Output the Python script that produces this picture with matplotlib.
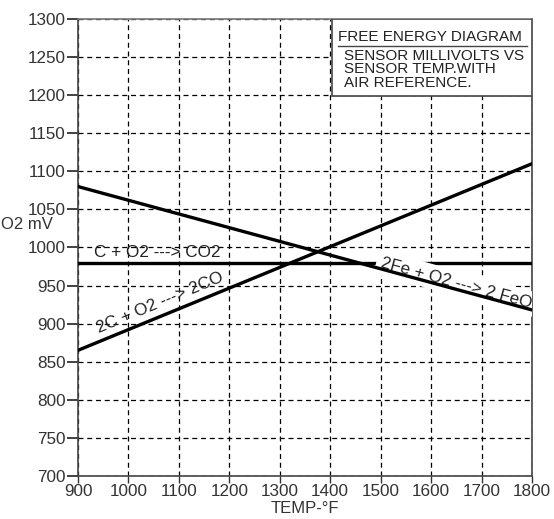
import numpy as np
import matplotlib.pyplot as plt
from matplotlib.patches import Rectangle

plt.rcParams['font.family'] = ['Liberation Sans', 'DejaVu Sans']

# temperature range (deg F) and the three reaction lines (mV)
temp = [900, 1800]
co2_mv = [980, 980]          # C + O2 ---> CO2
co_mv = [865, 1110]          # 2C + O2 ---> 2CO
feo_mv = [1080, 918]         # 2Fe + O2 ---> 2 FeO

xticks = list(range(900, 1801, 100))
yticks = list(range(700, 1301, 50))

fig = plt.figure(figsize=(5.54, 5.19), dpi=100)
ax = fig.add_axes([0.1408, 0.0829, 0.8195, 0.8805])

ax.set_xlim(900, 1800)
ax.set_ylim(700, 1300)
ax.set_xticks(xticks)
ax.set_yticks(yticks)
ax.tick_params(axis='both', labelsize=12.3, colors='#333333', labelcolor='#333333')
ax.tick_params(axis='y', length=8, width=1.3, pad=1)
ax.tick_params(axis='x', length=5, width=1, pad=1)
for s in ax.spines.values():
    s.set_color('#444444')
    s.set_linewidth(1.2)
ax.spines['top'].set_color('#777777')

ax.grid(True, color='black', linestyle=(0, (4, 3)), linewidth=0.9)
ax.set_axisbelow(True)

ax.plot(temp, co2_mv, color='black', lw=2.4, zorder=3)
ax.plot(temp, co_mv, color='black', lw=2.4, zorder=5)
ax.plot(temp, feo_mv, color='black', lw=2.4, zorder=5)

ax.text(1057, 993, 'C + O2 ---> CO2', fontsize=12.3, color='#222222',
        ha='center', va='center', zorder=4)
ax.text(1062, 927, '2C + O2 ---> 2CO', fontsize=12.3, color='#222222',
        ha='center', va='center', rotation=22.6, rotation_mode='anchor', zorder=4)
ax.text(1650, 953, '2Fe + O2 ---> 2 FeO', fontsize=12.3, color='#222222',
        ha='center', va='center', rotation=-15.3, rotation_mode='anchor', zorder=4,
        clip_on=True, bbox=dict(facecolor='white', edgecolor='none', pad=3.5))

ax.set_xlabel('TEMP-°F', fontsize=12, color='#333333', labelpad=1)
fig.text(0.002, 0.567, 'O2 mV', fontsize=12, color='#333333', ha='left', va='center')

# title box in upper right
ax.add_patch(Rectangle((0.559, 0.832), 0.441, 0.168, transform=ax.transAxes,
                       facecolor='white', edgecolor='#444444', lw=1.2, zorder=6))
ax.plot([0.573, 0.99], [0.94, 0.94], transform=ax.transAxes,
        color='#444444', lw=1, zorder=7)
ax.text(0.573, 0.945, 'FREE ENERGY DIAGRAM', transform=ax.transAxes,
        fontsize=11, color='#222222', ha='left', va='bottom', zorder=7)
ax.text(0.585, 0.935, 'SENSOR MILLIVOLTS VS\nSENSOR TEMP.WITH\nAIR REFERENCE.',
        transform=ax.transAxes, fontsize=11, color='#222222', ha='left', va='top',
        linespacing=0.95, zorder=7)

fig.savefig('out.png', dpi=100)
